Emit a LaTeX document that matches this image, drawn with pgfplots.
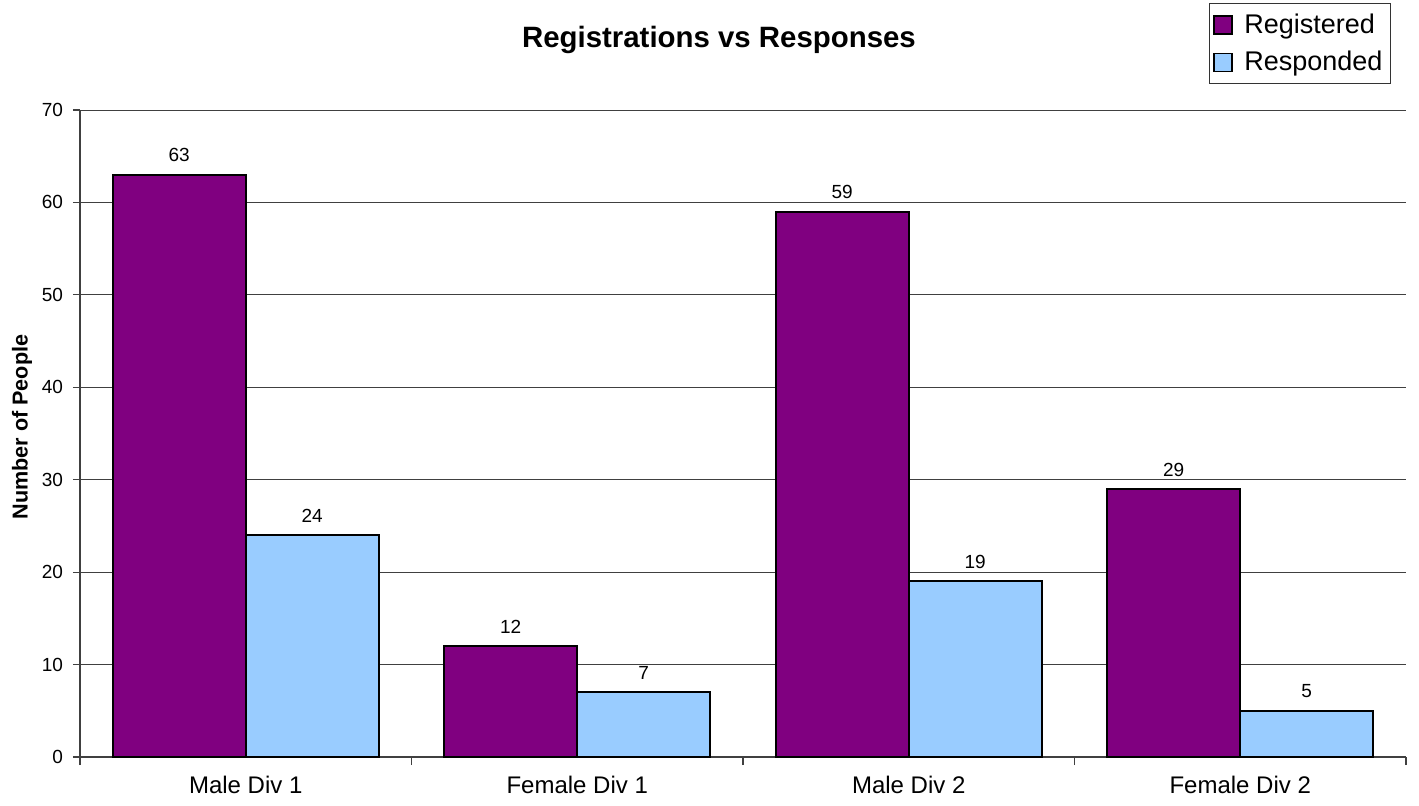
\documentclass[border=0pt]{standalone}
\usepackage{pgfplots}
\pgfplotsset{compat=1.18}
\usepackage{fontspec}
\setmainfont{Liberation Sans}
\definecolor{regc}{HTML}{800080}
\definecolor{resc}{HTML}{99CCFF}
\begin{document}
\begin{tikzpicture}
\useasboundingbox (-40pt,-24pt) rectangle (669.5pt,378.5pt);
\begin{axis}[
  at={(0,0)}, anchor=south west,
  scale only axis, width=663pt, height=323.5pt,
  xmin=-0.5, xmax=3.5, ymin=0, ymax=70,
  axis x line*=bottom, axis y line*=left,
  axis line style={black!75, line width=0.6pt},
  xtick={0,1,2,3},
  xticklabels={Male Div 1,Female Div 1,Male Div 2,Female Div 2},
  minor xtick={-0.5,0.5,1.5,2.5,3.5},
  major x tick style={draw=none},
  minor x tick style={black!75, line width=0.6pt},
  ytick={0,10,...,70},
  y tick style={black!75, line width=0.6pt},
  tick align=outside,
  major tick length=3.5pt, minor tick length=4pt,
  ymajorgrids, grid style={black!75, line width=0.5pt},
  /pgf/number format/assume math mode=true,
  yticklabel style={font=\fontsize{9.5}{11}\selectfont, xshift=-1.5pt},
  xticklabel style={font=\fontsize{12}{14}\selectfont, yshift=-2.5pt},
  ylabel={Number of People},
  ylabel style={font=\fontsize{10.8}{12}\selectfont\bfseries, at={(axis description cs:-0.0437,0.51)}, anchor=center},
  ybar=0pt, bar width=66.5pt,
  nodes near coords,
  nodes near coords style={font=\fontsize{9.5}{11}\selectfont, yshift=2.5pt},
  legend style={at={(axis description cs:0.98869,1.16538)}, anchor=north east,
    draw=black!80, line width=0.6pt, font=\fontsize{13.5}{16}\selectfont,
    inner xsep=2pt, inner ysep=3pt, row sep=3.5pt, cells={anchor=west}},
  legend image code/.code={\draw[#1, line width=0.9pt] (0pt,-4.5pt) rectangle (9pt,4.5pt); \path (12.5pt,0pt);},
]
\addplot[draw=black, line width=1pt, fill=regc, bar shift=-33.25pt] coordinates {(0,63) (1,12) (2,59) (3,29)};
\addplot[draw=black, line width=1pt, fill=resc, bar shift=33.25pt] coordinates {(0,24) (1,7) (2,19) (3,5)};
\legend{Registered,Responded}
\end{axis}
\node[font=\fontsize{14.7}{17}\selectfont\bfseries] at (319.5pt,358.5pt) {Registrations vs Responses};
\end{tikzpicture}
\end{document}
